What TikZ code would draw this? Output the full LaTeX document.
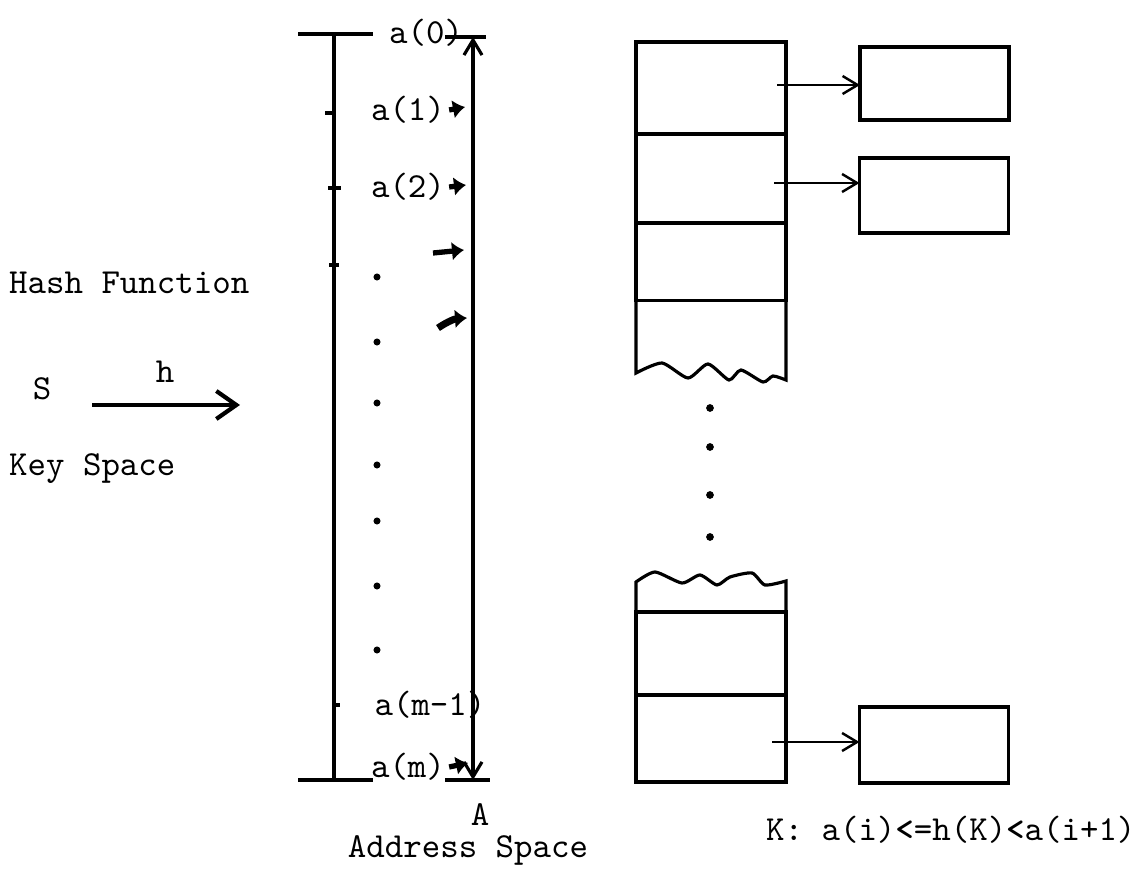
\documentclass[tikz,border=0pt]{standalone}
\usepackage{fontspec}
\usetikzlibrary{arrows.meta,positioning}

\begin{document}
\begin{tikzpicture}[x=0.01cm,y=-0.01cm,>={Straight Barb[length=1.5mm,width=1.8mm]},
  every node/.style={font=\ttfamily,inner sep=1pt},
  cell/.style={draw,line width=0.9pt,minimum width=1.5cm,inner sep=0pt,outer sep=0pt},
  ovf/.style={draw,line width=0.9pt,minimum width=1.49cm,inner sep=0pt,outer sep=0pt},
  tick/.style={line width=1.4pt},
  pt/.style={-{Latex[length=1.2mm,width=1.9mm]},line width=1.5pt}]
\useasboundingbox (0,0) rectangle (1132,876);

% key space and hash function
\node[anchor=west] (hf) at (5,283) {Hash Function};
\node (s) at (42,389) {S};
\node (h) at (165,372) {h};
\node[anchor=west] (ks) at (5,469) {Key Space};
\coordinate (h0) at (92,405);
\coordinate (h1) at (240,405);
\draw[line width=1.2pt,-{Straight Barb[length=2mm,width=2.8mm]}] (h0) -- (h1);

% address space
\draw[line width=0.9pt] (298,34) -- (373,34) (334,34) -- (334,780) (298,780) -- (373,780);
\draw[tick] (325,113) -- (334,113) (328,188) -- (341,188) (329,265) -- (339,265) (333,705) -- (340,705);
\coordinate (at) at (473,37);
\coordinate (ab) at (473,780);
\draw[line width=0.9pt,<->] (at) -- (ab);
\draw[line width=0.9pt] (445,37) -- (486,37) (445,780) -- (490,780);

\node (a0) at (426,33) {a(0)};
\node (a1) at (408,110) {a(1)};
\node (a2) at (408,187) {a(2)};
\node (am1) at (430,705) {a(m-1)};
\node (am) at (408,767) {a(m)};
\node (aa) at (480,815) {A};
\node (as) at (468,850) {Address Space};

\coordinate (q1) at (465,107);
\coordinate (q2) at (466,185);
\coordinate (q3a) at (433,253);
\coordinate (q3) at (464,250);
\coordinate (q4a) at (438,328);
\coordinate (q4) at (467,318);
\coordinate (q5) at (468,763);
\draw[pt] (a1.east) -- (q1);
\draw[pt] (a2.east) -- (q2);
\draw[pt] (q3a) -- (q3);
\draw[pt,line width=2pt] (q4a) to[bend left=15] (q4);
\draw[pt] (am.east) -- (q5);

\foreach \y in {277,342,403,465,521,586,650}
  \fill (377,\y) circle (1pt);

% buckets
\node[cell,minimum height=0.92cm] (c1) at (711,88) {};
\node[cell,minimum height=0.89cm,below=0pt of c1] (c2) {};
\node[cell,minimum height=0.77cm,below=0pt of c2] (c3) {};
\draw[line width=0.9pt] (c3.south west) -- (636,373) -- plot[smooth,tension=0.4] coordinates {(636,373) (662,363) (688,378) (708,364) (729,380) (741,370) (763,382) (773,376) (786,380)} -- (c3.south east);

\foreach \y in {408,447,495,537}
  \fill (710,\y) circle (1.1pt);

\node[cell,minimum height=0.83cm] (d1) at (711,653.5) {};
\node[cell,minimum height=0.87cm,below=0pt of d1] (d2) {};
\draw[line width=0.9pt] (d1.north west) -- (636,582) -- plot[smooth,tension=0.4] coordinates {(636,582) (655,572) (682,583) (700,575) (717,585) (730,577) (752,573) (765,585) (786,581)} -- (d1.north east);

% overflow records
\node[ovf,minimum height=0.73cm] (o1) at (934.5,83.5) {};
\node[ovf,minimum height=0.75cm] (o2) at (934,195.5) {};
\node[ovf,minimum height=0.76cm] (o3) at (934,745) {};

\coordinate (p1) at (777,85);
\coordinate (p2) at (774,183);
\coordinate (p3) at (772,742);
\draw[line width=0.7pt,->] (p1) -- (p1 -| o1.west);
\draw[line width=0.7pt,->] (p2) -- (p2 -| o2.west);
\draw[line width=0.7pt,->] (p3) -- (p3 -| o3.west);

\node[anchor=west] (kk) at (762,830) {K: a(i){\bfseries<}=h(K){\bfseries<}a(i+1)};
\end{tikzpicture}
\end{document}
